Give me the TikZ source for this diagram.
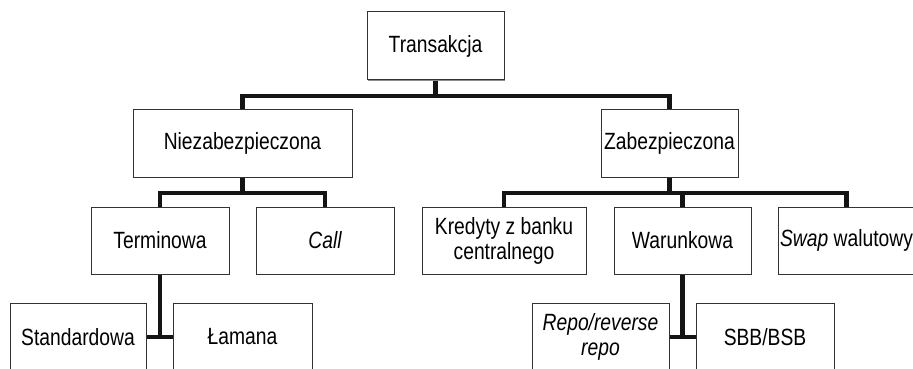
\documentclass[tikz,border=0pt]{standalone}
\usepackage{fontspec}
\setmainfont[FakeStretch=0.82]{Liberation Sans}
\usetikzlibrary{shadows}
\begin{document}
\begin{tikzpicture}[x=1pt,y=-1pt,
  box/.style={draw=black!80, line width=1pt, fill=white, inner sep=0pt,
    minimum width=137pt, minimum height=68pt, align=center,
    font=\fontsize{23.5}{25}\selectfont,
    drop shadow={shadow xshift=1.3pt, shadow yshift=-1.3pt, fill=black!45, opacity=1}},
  conn/.style={line width=4.5pt, draw=black!92, line join=miter}]
\useasboundingbox (0,0) rectangle (913,369);
\clip (0,0) rectangle (913,369);
\path
  coordinate (cT) at (435.5,46)
  coordinate (cN) at (242.5,143)
  coordinate (cZ) at (669.5,143)
  coordinate (cTe) at (160,240.5)
  coordinate (cC) at (325,240.5)
  coordinate (cK) at (504,240.5)
  coordinate (cW) at (682.5,240.5)
  coordinate (cS) at (846.5,240.5)
  coordinate (cSt) at (78,337)
  coordinate (cL) at (242.5,337)
  coordinate (cR) at (600.5,337)
  coordinate (cSB) at (765,337);
% connectors (under boxes)
\coordinate (b1) at (435.5,96);
\coordinate (b2) at (242.5,193);
\coordinate (b3) at (669.5,193);
\draw[conn] (cT) -- (b1);
\draw[conn] (b1) -| (cN);
\draw[conn] (b1) -| (cZ);
\draw[conn] (cN) -- (b2);
\draw[conn] (b2) -| (cTe);
\draw[conn] (b2) -| (cC);
\draw[conn] (cZ) -- (b3);
\draw[conn] (b3) -| (cK);
\draw[conn] (b3) -| (cW);
\draw[conn] (b3) -| (cS);
\draw[conn] (cTe) |- (cL);
\draw[conn] (cSt) -- (cL);
\draw[conn] (cW) |- (cSB);
\draw[conn] (cR) -- (cSB);
% boxes
\node[box, minimum width=137pt] (T) at (cT) {Transakcja};
\node[box, minimum width=219pt] (N) at (cN) {Niezabezpieczona};
\node[box, minimum width=137pt] (Z) at (cZ) {Zabezpieczona};
\node[box, minimum width=138pt, minimum height=67pt] (Te) at (cTe) {Terminowa};
\node[box, minimum width=138pt, minimum height=67pt] (C) at (cC) {\itshape Call};
\node[box, minimum width=164pt, minimum height=67pt] (K) at (cK) {Kredyty z banku\\centralnego};
\node[box, minimum width=137pt, minimum height=67pt] (W) at (cW) {Warunkowa};
\node[box, minimum width=137pt, minimum height=67pt] (S) at (cS) {\textit{Swap} walutowy};
\node[box, minimum width=136pt, minimum height=67pt] (St) at (cSt) {Standardowa};
\node[box, minimum width=139pt, minimum height=67pt] (L) at (cL) {Łamana};
\node[box, minimum width=137pt, minimum height=67pt] (R) at (cR) {\itshape Repo/reverse\\\itshape repo};
\node[box, minimum width=138pt, minimum height=67pt] (SB) at (cSB) {SBB/BSB};
\end{tikzpicture}
\end{document}
